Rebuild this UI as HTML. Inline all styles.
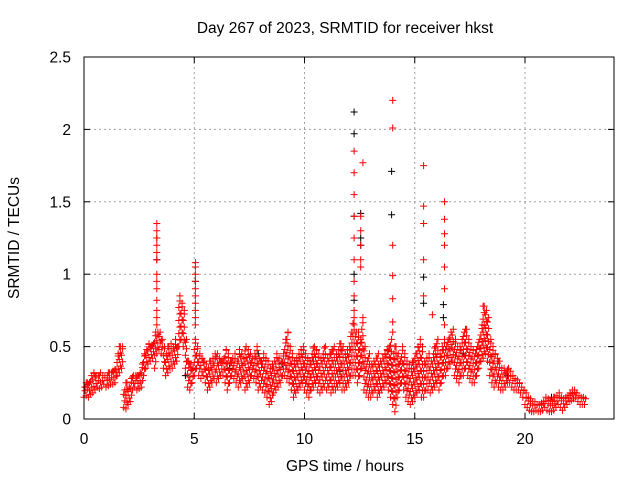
<!DOCTYPE html>
<html><head><meta charset="utf-8"><style>
body{margin:0;background:#fff}
svg{display:block;font-family:"Liberation Sans",sans-serif}
</style></head><body>
<svg id="c" width="640" height="480">
<text x="345" y="33" text-anchor="middle" font-size="15.5">Day 267 of 2023, SRMTID for receiver hkst</text>
<text x="345" y="471" text-anchor="middle" font-size="15.5">GPS time / hours</text>
<text transform="translate(19,238) rotate(-90)" text-anchor="middle" font-size="15.5">SRMTID / TECUs</text>
<g id="grid"></g>
<g id="ticks"></g>
<g id="marks"></g>
<rect x="84" y="57" width="530" height="362" fill="none" stroke="#000"/>
</svg>
<script>
const xTicks=[0,5,10,15,20];
const yTicks=[0,0.5,1,1.5,2,2.5];
const yTickLabels=["0","0.5","1","1.5","2","2.5"];
const loVals=[.15,.16,.15,.17,.18,.2,.22,.21,.22,.24,
.22,.23,.24,.24,.25,.3,.32,.35,.08,.07,
.1,.12,.2,.22,.2,.21,.22,.3,.35,.38,
.4,.42,.35,.45,.48,.45,.35,.3,.32,.35,
.35,.38,.4,.5,.55,.5,.35,.22,.2,.25,
.3,.35,.3,.28,.3,.25,.2,.22,.25,.28,
.25,.28,.3,.3,.25,.2,.25,.3,.28,.25,
.22,.25,.28,.2,.22,.25,.3,.28,.25,.2,
.22,.2,.18,.15,.1,.12,.18,.2,.22,.25,
.3,.3,.28,.25,.2,.15,.18,.2,.22,.25,
.2,.18,.15,.2,.22,.25,.2,.18,.2,.22,
.2,.22,.18,.2,.2,.22,.25,.2,.2,.22,
.25,.3,.3,.3,.25,.3,.35,.2,.18,.15,
.15,.18,.2,.15,.18,.2,.22,.25,.2,.15,
.1,.05,.15,.2,.25,.2,.15,.12,.1,.12,
.15,.18,.2,.15,.15,.2,.2,.18,.2,.22,
.25,.2,.25,.3,.3,.35,.38,.4,.3,.28,
.25,.3,.3,.35,.3,.28,.25,.25,.3,.35,
.4,.42,.45,.4,.3,.25,.22,.25,.22,.2,
.2,.22,.25,.25,.22,.2,.2,.2,.18,.15,
.1,.08,.06,.05,.05,.06,.05,.05,.06,.08,
.06,.05,.05,.06,.08,.1,.08,.06,.08,.1,
.12,.13,.14,.15,.12,.1,.1,.1];
const hiVals=[.22,.25,.25,.3,.32,.3,.3,.32,.3,.3,
.3,.32,.32,.33,.34,.45,.5,.5,.2,.25,
.22,.28,.3,.3,.3,.32,.38,.45,.48,.52,
.5,.52,.6,.6,.6,.55,.5,.45,.5,.52,
.5,.55,.5,.85,.8,.75,.55,.4,.38,.35,
.55,.5,.45,.42,.4,.38,.35,.4,.42,.45,
.45,.42,.4,.42,.48,.45,.4,.42,.45,.4,
.48,.45,.42,.5,.48,.45,.42,.45,.5,.42,
.4,.45,.42,.4,.35,.38,.4,.45,.42,.4,
.45,.55,.6,.5,.45,.4,.42,.45,.48,.5,
.45,.42,.4,.45,.5,.48,.45,.42,.45,.5,
.42,.45,.48,.5,.45,.48,.52,.5,.45,.48,
.5,.6,.7,.6,.6,.55,.7,.5,.4,.45,
.38,.4,.42,.45,.4,.42,.45,.48,.5,.55,
.45,.5,.45,.4,.5,.45,.4,.38,.35,.4,
.45,.5,.55,.5,.4,.42,.45,.4,.45,.5,
.55,.45,.5,.55,.5,.55,.6,.62,.55,.5,
.5,.55,.6,.62,.55,.5,.48,.45,.5,.55,
.65,.78,.75,.7,.55,.5,.45,.42,.4,.35,
.35,.32,.35,.33,.3,.28,.27,.25,.22,.2,
.18,.15,.14,.12,.12,.1,.1,.11,.12,.15,
.14,.13,.12,.15,.16,.18,.15,.14,.15,.16,
.18,.2,.2,.18,.16,.15,.15,.14];
const redSpikeT=[3.3,3.3,3.3,3.3,3.3,3.3,3.3,3.3,3.3,3.3,3.3,3.3,3.3,
5.05,5.05,5.05,5.05,5.05,5.05,5.05,5.05,5.05,5.05,
12.25,12.25,12.25,12.25,12.25,12.25,12.25,12.25,12.25,12.25,
12.55,12.55,12.55,12.55,12.55,12.65,
14.0,14.0,14.0,14.0,14.0,14.0,14.0,
15.4,15.4,15.4,15.4,15.4,15.8,
16.35,16.35,16.35,16.35,16.35,16.35,16.35];
const redSpikeV=[1.35,1.3,1.25,1.2,1.15,1.1,1.0,.95,.9,.82,.75,.7,.65,
1.08,1.05,1.0,.95,.9,.85,.8,.75,.7,.65,
1.85,1.7,1.55,1.4,1.25,1.1,.95,.85,.75,.65,
1.4,1.3,1.2,1.1,1.05,1.77,
2.2,2.01,1.2,.99,.83,.67,.6,
1.75,1.47,1.35,1.1,.85,.72,
1.5,1.38,1.28,1.2,1.05,.9,.65];
const blackT=[12.25,12.25,12.25,12.25,12.25,12.55,12.55,12.55,13.95,13.95,15.4,15.4,16.3,16.3,3.3,3.3,5.05,0.05,2.2,4.6,6.6,7.9,9.0,10.4,11.6,17.2,19.2,21.2];
const blackV=[2.12,1.97,1.4,1.0,.82,1.42,1.25,1.2,1.71,1.41,.98,.8,.79,.7,1.25,1.1,.95,.22,.2,.3,.35,.45,.38,.4,.33,.45,.3,.15];

const X=t=>84+t*22.05, Y=v=>419-v*144.8;
const NS='http://www.w3.org/2000/svg';
const grid=document.getElementById('grid'),ticks=document.getElementById('ticks'),marks=document.getElementById('marks');
function mk(tag,attrs,parent){const e=document.createElementNS(NS,tag);for(const k in attrs)e.setAttribute(k,attrs[k]);parent.appendChild(e);return e;}
xTicks.forEach(t=>{
 if(t>0){const g=mk('line',{x1:X(t),x2:X(t),y1:57,y2:419,stroke:'#a0a0a0','stroke-dasharray':'2,3'},grid);
 
 }
 const a=mk('line',{x1:X(t),x2:X(t),y1:419,y2:413,stroke:'#000'},ticks);
 
 
 const b=mk('line',{x1:X(t),x2:X(t),y1:57,y2:63,stroke:'#000'},ticks);
 
 
 const l=mk('text',{x:X(t),y:444,'text-anchor':'middle','font-size':15.5},ticks);l.textContent=String(t);
 
 
});
yTicks.forEach((v,i)=>{
 if(v>0&&v<2.5){const g=mk('line',{x1:84,x2:614,y1:Y(v),y2:Y(v),stroke:'#a0a0a0','stroke-dasharray':'2,3'},grid);
 
 }
 const a=mk('line',{x1:84,x2:90,y1:Y(v),y2:Y(v),stroke:'#000'},ticks);
 
 
 const b=mk('line',{x1:608,x2:614,y1:Y(v),y2:Y(v),stroke:'#000'},ticks);
 
 
 const l=mk('text',{x:71,y:Y(v)+5.5,'text-anchor':'end','font-size':15.5},ticks);l.textContent=yTickLabels[i];
 
 
});
function plus(x,y){return `M${(x-3.5).toFixed(1)} ${y.toFixed(1)}h7M${x.toFixed(1)} ${(y-3.5).toFixed(1)}v7`;}
let dk='';
blackT.forEach((t,i)=>{dk+=plus(X(t),Y(blackV[i]));});
const bp=mk('path',{d:dk,stroke:'#000',fill:'none','stroke-width':1},marks);


let dr='';
loVals.forEach((lo,i)=>{
 const hi=hiVals[i];const t=i*0.1;
 let k=0;
 for(let v=lo;v<=hi+1e-6;v+=0.045){dr+=plus(X(t+(k%2?0.05:0)),Y(v));k++;}
 dr+=plus(X(t+0.05),Y(hi));
});
redSpikeT.forEach((t,i)=>{dr+=plus(X(t),Y(redSpikeV[i]));});
const rp=mk('path',{d:dr,stroke:'#ff0000',fill:'none','stroke-width':1},marks);


</script>
</body></html>
